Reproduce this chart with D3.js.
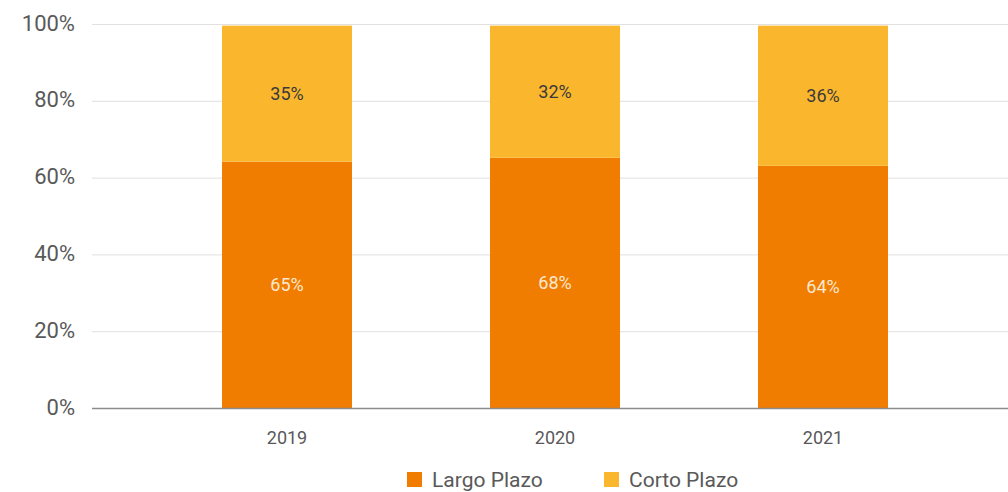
<!DOCTYPE html>
<html>
<head>
<meta charset="utf-8">
<script src="https://cdn.jsdelivr.net/npm/d3@7"></script>
<style>
  body { margin: 0; background: #fff; }
  text { font-family: Roboto, "Open Sans", sans-serif; }
</style>
</head>
<body>
<svg id="graph" width="1008" height="492"></svg>
<script>
// datos
var years = ["2019", "2020", "2021"];
var largoPlazo = [64.3, 65.3, 63.2];
var cortoPlazo = [35.4, 34.4, 36.5];
var largoLabels = ["65%", "68%", "64%"];
var cortoLabels = ["35%", "32%", "36%"];
var yTicks = [0, 20, 40, 60, 80, 100];
var seriesNames = ["Largo Plazo", "Corto Plazo"];

const colores = ["#F07D00", "#FAB72D"];

function creaGrafica() {
    let svg = d3.select("#graph");

    var y = d3.scaleLinear().domain([0, 100]).range([408.5, 24.5]);
    var x = d3.scaleBand()
        .domain(years)
        .range([153, 957])
        .paddingInner(0.515)
        .paddingOuter(0.2575);

    // lineas de la grilla
    svg.append("g")
        .selectAll("line")
        .data(yTicks.filter(d => d > 0))
        .enter().append("line")
        .attr("x1", 92).attr("x2", 1008)
        .attr("y1", d => y(d)).attr("y2", d => y(d))
        .attr("stroke", "#e3e0de")
        .attr("stroke-width", 1);

    // eje Y
    let yaxis = svg.append("g")
        .attr("transform", "translate(75,0)")
        .call(d3.axisLeft(y).tickValues(yTicks).tickFormat(d => d + "%").tickSize(0).tickPadding(0));
    yaxis.select(".domain").remove();
    yaxis.selectAll("text")
        .attr("fill", "#595959")
        .style("font-size", "22px")
        .attr("dy", "0.25em");

    let data = years.map((yr, i) => ({ year: yr, largo: largoPlazo[i], corto: cortoPlazo[i], ll: largoLabels[i], cl: cortoLabels[i] }));

    let g = svg.append("g");
    // barras largo plazo
    g.selectAll(".largo")
        .data(data)
        .enter().append("rect")
        .attr("class", "largo")
        .attr("x", d => x(d.year))
        .attr("width", x.bandwidth())
        .attr("y", d => y(d.largo))
        .attr("height", d => y(0) - y(d.largo))
        .attr("fill", colores[0]);
    // barras corto plazo
    g.selectAll(".corto")
        .data(data)
        .enter().append("rect")
        .attr("class", "corto")
        .attr("x", d => x(d.year))
        .attr("width", x.bandwidth())
        .attr("y", d => y(d.largo + d.corto))
        .attr("height", d => y(d.largo) - y(d.largo + d.corto))
        .attr("fill", colores[1]);

    // etiquetas de datos
    g.selectAll(".lblL")
        .data(data)
        .enter().append("text")
        .attr("x", d => x(d.year) + x.bandwidth() / 2)
        .attr("y", d => y(d.largo / 2))
        .attr("dy", "0.35em")
        .attr("text-anchor", "middle")
        .attr("fill", "#fde8d0")
        .style("font-size", "18px")
        .text(d => d.ll);
    g.selectAll(".lblC")
        .data(data)
        .enter().append("text")
        .attr("x", d => x(d.year) + x.bandwidth() / 2)
        .attr("y", d => y(d.largo + d.corto / 2))
        .attr("dy", "0.35em")
        .attr("text-anchor", "middle")
        .attr("fill", "#3a3a3a")
        .style("font-size", "18px")
        .text(d => d.cl);

    // eje X
    svg.append("line")
        .attr("x1", 92).attr("x2", 1008)
        .attr("y1", y(0)).attr("y2", y(0))
        .attr("stroke", "#8c8c8c")
        .attr("stroke-width", 1.3);
    let xaxis = svg.append("g")
        .attr("transform", "translate(0," + y(0) + ")")
        .call(d3.axisBottom(x).tickSize(0).tickPadding(0));
    xaxis.select(".domain").remove();
    xaxis.selectAll("text")
        .attr("y", 29)
        .attr("dy", "0.35em")
        .attr("fill", "#595959")
        .style("font-size", "18px");

    // leyenda
    let legX = [407, 604];
    const groups = svg.append("g")
        .selectAll("g")
        .data(seriesNames)
        .enter().append("g")
        .attr("transform", (d, i) => `translate(${legX[i]},472)`);
    groups.append("rect")
        .attr("width", 15).attr("height", 15)
        .attr("fill", (d, i) => colores[i]);
    groups.append("text")
        .attr("x", 25)
        .attr("y", 7.5)
        .attr("dy", "0.35em")
        .attr("fill", "#595959")
        .style("font-size", "21px")
        .text(d => d);
}

creaGrafica();
</script>
</body>
</html>
